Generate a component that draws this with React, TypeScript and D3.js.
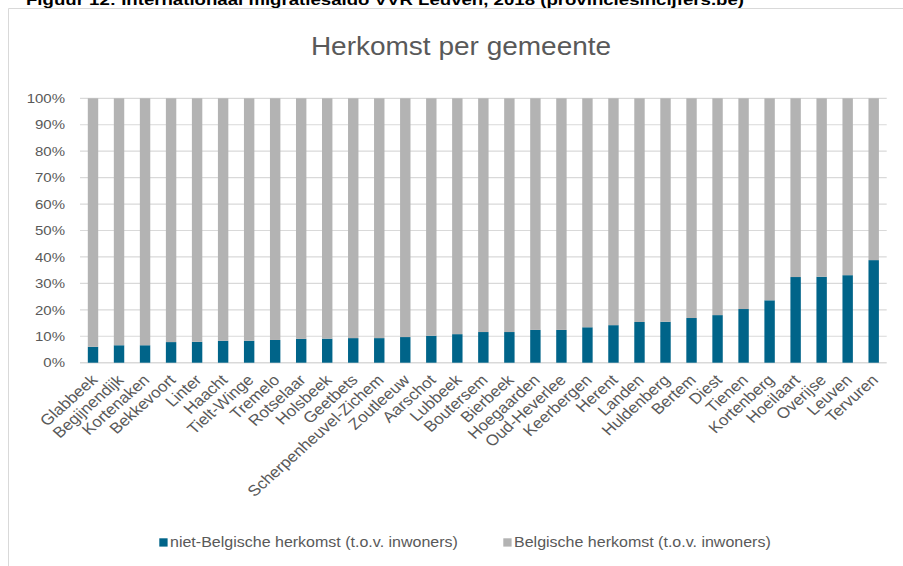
import React from 'react';
import * as d3 from 'd3';

const W = 903;
const H = 566;
const SX = 1.12; // horizontal stretch of the original picture

const captionText = 'Figuur 12: Internationaal migratiesaldo VVR Leuven, 2018 (provinciesincijfers.be)';
const titleText = 'Herkomst per gemeente';

const categories = [
  'Glabbeek', 'Begijnendijk', 'Kortenaken', 'Bekkevoort', 'Linter', 'Haacht', 'Tielt-Winge',
  'Tremelo', 'Rotselaar', 'Holsbeek', 'Geetbets', 'Scherpenheuvel-Zichem', 'Zoutleeuw',
  'Aarschot', 'Lubbeek', 'Boutersem', 'Bierbeek', 'Hoegaarden', 'Oud-Heverlee', 'Keerbergen',
  'Herent', 'Landen', 'Huldenberg', 'Bertem', 'Diest', 'Tienen', 'Kortenberg', 'Hoeilaart',
  'Overijse', 'Leuven', 'Tervuren',
];

const nietBelgisch = [
  6.0, 6.6, 6.6, 7.8, 7.9, 8.3, 8.3, 8.6, 9.0, 9.1, 9.3, 9.3, 9.7, 10.2, 10.8, 11.6,
  11.6, 12.4, 12.4, 13.4, 14.2, 15.4, 15.5, 16.9, 18.0, 20.3, 23.6, 32.4, 32.5, 33.1, 38.8,
];

const belgisch = [
  94.0, 93.4, 93.4, 92.2, 92.1, 91.7, 91.7, 91.4, 91.0, 90.9, 90.7, 90.7, 90.3, 89.8, 89.2, 88.4,
  88.4, 87.6, 87.6, 86.6, 85.8, 84.6, 84.5, 83.1, 82.0, 79.7, 76.4, 67.6, 67.5, 66.9, 61.2,
];

const seriesNames = ['niet-Belgische herkomst (t.o.v. inwoners)', 'Belgische herkomst (t.o.v. inwoners)'];
const seriesKeys = ['niet', 'belg'];
const seriesColors = ['#006489', '#b3b3b3'];

const yTicks = [0, 0.1, 0.2, 0.3, 0.4, 0.5, 0.6, 0.7, 0.8, 0.9, 1.0];

const FONT = "'Liberation Sans', Arial, sans-serif";
const TEXT = '#595959';
const GRID = '#d9d9d9';

export default function App() {
  const x = d3.scaleBand<string>()
    .domain(categories)
    .range([80, 886.7])
    .paddingInner(0.6)
    .paddingOuter(0.3);
  const y = d3.scaleLinear().domain([0, 1]).range([362.7, 98.3]);

  const rows = categories.map((c, i) => ({ cat: c, niet: nietBelgisch[i], belg: belgisch[i] }));
  const stacked = d3.stack<any>().keys(seriesKeys).offset(d3.stackOffsetExpand)(rows);

  const legendX = [159.3, 503.3];

  return (
    <svg
      width={W}
      height={H}
      viewBox={`0 0 ${W} ${H}`}
      style={{ position: 'absolute', left: 0, top: 0, background: '#fff' }}
    >
      <rect x={0} y={0} width={W} height={H} fill="#fff" />
      {/* caption, cut off at top as in the source picture */}
      <text
        x={26}
        y={5}
        fontFamily={FONT}
        fontWeight="bold"
        fontSize={15}
        fill="#000"
        textLength={718}
        lengthAdjust="spacingAndGlyphs"
      >
        {captionText}
      </text>
      {/* frame */}
      <line x1={8.5} y1={8.5} x2={W} y2={8.5} stroke={GRID} strokeWidth={1} />
      <line x1={8.5} y1={8.5} x2={8.5} y2={H} stroke={GRID} strokeWidth={1} />

      {/* title */}
      <text
        transform={`translate(461,54.5) scale(${SX},1)`}
        textAnchor="middle"
        fontFamily={FONT}
        fontSize={25}
        fill={TEXT}
      >
        {titleText}
      </text>

      {/* gridlines */}
      {yTicks.map((t) => (
        <line
          key={t}
          x1={80}
          x2={886.7}
          y1={y(t)}
          y2={y(t)}
          stroke={GRID}
          strokeWidth={t === 0 ? 1.5 : 1.2}
        />
      ))}
      {/* y labels */}
      {yTicks.map((t) => (
        <text
          key={'l' + t}
          transform={`translate(65,${y(t) + 4.7}) scale(${SX},1)`}
          textAnchor="end"
          fontFamily={FONT}
          fontSize={13.4}
          fill={TEXT}
        >
          {d3.format('.0%')(t)}
        </text>
      ))}

      {/* bars */}
      {stacked.map((s, si) => (
        <g key={s.key} fill={seriesColors[si]}>
          {s.map((d: any) => (
            <rect
              key={d.data.cat}
              x={x(d.data.cat)}
              width={x.bandwidth()}
              y={y(d[1])}
              height={y(d[0]) - y(d[1])}
            />
          ))}
        </g>
      ))}

      {/* x labels */}
      {categories.map((c) => (
        <text
          key={c}
          transform={`translate(${(x(c) as number) + x.bandwidth() / 2 + 5.5},${381}) scale(${SX},1) rotate(-45)`}
          textAnchor="end"
          fontFamily={FONT}
          fontSize={15.2}
          fill={TEXT}
        >
          {c}
        </text>
      ))}

      {/* legend */}
      {seriesNames.map((n, i) => (
        <g key={n}>
          <rect x={legendX[i]} y={538.3} width={8.3} height={8.3} fill={seriesColors[i]} />
          <text
            transform={`translate(${legendX[i] + 10.7},546.5) scale(${SX},1)`}
            fontFamily={FONT}
            fontSize={14.3}
            fill={TEXT}
          >
            {n}
          </text>
        </g>
      ))}
    </svg>
  );
}
